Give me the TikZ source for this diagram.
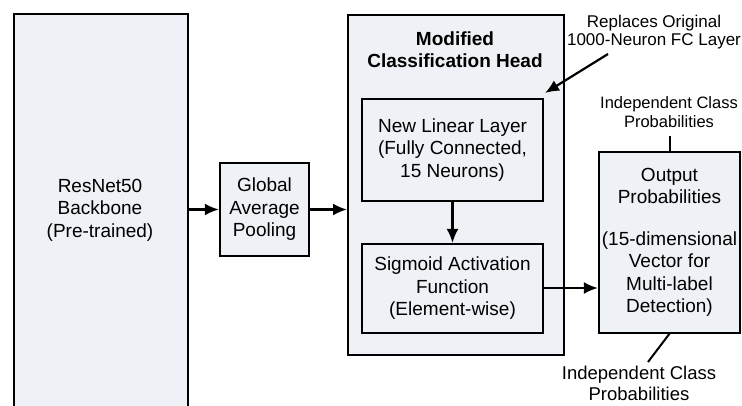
\documentclass[tikz,border=0pt]{standalone}
\usepackage{fontspec}
\setmainfont{Liberation Sans}
\usetikzlibrary{arrows.meta}

\definecolor{boxfill}{HTML}{EEF1F5}

\tikzset{
  blk/.style={draw=black, line width=2.2pt, fill=boxfill, inner sep=0pt},
  txt/.style={align=center, font=\fontsize{19}{22.5}\selectfont, inner sep=0pt},
  note/.style={align=center, inner sep=0pt},
  flow/.style={line width=2.2pt, -{Latex[length=14pt,width=12pt]}},
  tie/.style={line width=2pt},
}

\begin{document}
\begin{tikzpicture}[x=1pt, y=-1pt]
  \useasboundingbox (0,0) rectangle (742,405);
  \fill[white] (0,0) rectangle (742,405);

  % backbone (runs past the lower edge)
  \node[blk, minimum width=174pt, minimum height=412pt, anchor=north west] (bb) at (13,13) {};
  \node[txt] (bbt) at (100,210) {ResNet50\\Backbone\\(Pre-trained)};

  % global average pooling
  \node[blk, txt, minimum width=89pt, minimum height=93pt] (gap) at (264.5,209.5) {Global\\Average\\Pooling};

  % classification head container
  \node[blk, minimum width=216pt, minimum height=340pt, anchor=north west] (head) at (347,14) {};
  \node[txt, font=\fontsize{19}{22.5}\selectfont\bfseries] (title) at (455,49.5) {Modified\\Classification Head};

  \node[blk, txt, minimum width=181pt, minimum height=102pt] (lin) at (452.5,150) {New Linear Layer\\(Fully Connected,\\15 Neurons)};
  \node[blk, txt, minimum width=181pt, minimum height=89pt] (sig) at (452.5,288.5) {Sigmoid Activation\\Function\\(Element-wise)};

  % output
  \node[blk, txt, minimum width=141pt, minimum height=181pt] (out) at (669.5,242.5) {Output\\Probabilities\\[19pt](15-dimensional\\Vector for\\Multi-label\\Detection)};

  % annotations
  \node[note, font=\fontsize{17}{18.5}\selectfont] (rep) at (654,32) {Replaces Original\\1000-Neuron FC Layer};
  \node[note, font=\fontsize{16.5}{19}\selectfont] (ptop) at (669,112) {Independent Class\\Probabilities};
  \node[note, font=\fontsize{18.5}{21}\selectfont] (pbot) at (639,383) {Independent Class\\Probabilities};
  \coordinate (repA) at (608,54);
  \coordinate (repB) at (545,93);
  \coordinate (botA) at (648,362);

  % flow
  \draw[flow] (bb.east |- gap.west) -- (gap.west);
  \draw[flow] (gap.east) -- (head.west |- gap.east);
  \draw[flow] (lin.south) -- (sig.north);
  \draw[flow] (sig.east |- 0,288) -- (out.west |- 0,288);
  \draw[flow] (repA) -- (repB);
  \draw[tie] (670,136) -- (670,152);
  \draw[tie] (670,333) -- (botA);
\end{tikzpicture}
\end{document}
